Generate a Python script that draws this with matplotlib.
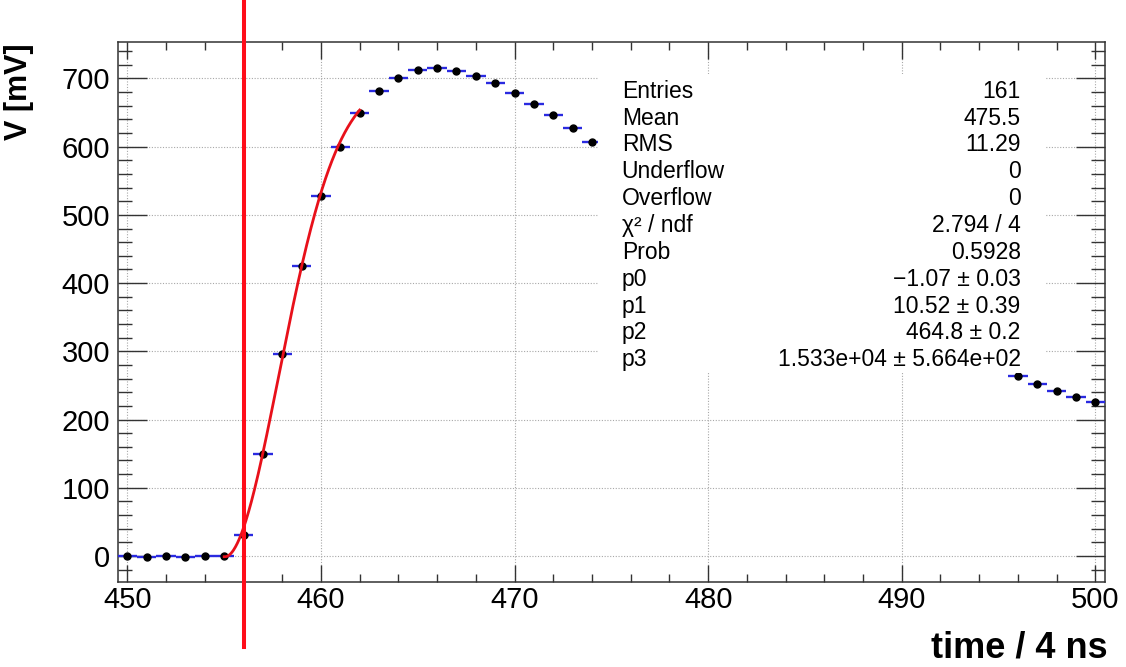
import numpy as np
import matplotlib
matplotlib.use('Agg')
import matplotlib.pyplot as plt
from matplotlib.patches import Rectangle
from matplotlib.ticker import MultipleLocator

plt.rcParams['font.family'] = ['Liberation Sans', 'DejaVu Sans']

# samples (bin centres, time / 4 ns) and measured voltage in mV
time_bins = np.arange(450, 501)
voltage = [0, -1, 0, -1.5, 0, 0, 31, 150, 296, 425,
           528, 600, 650, 682, 701, 712, 715, 711, 704, 693,
           678, 663, 646, 627, 607, 587, 567, 548, 529, 510,
           492, 475, 458, 441, 425, 410, 395, 380, 366, 352,
           339, 326, 313, 301, 289, 277, 263.5, 252, 242, 233,
           225]

# rising-edge fit: baseline + amplitude * (1 - exp(-((t - t0)/tau)^k))
fit_range = (455, 462)
fit_baseline, fit_amp, fit_t0, fit_tau, fit_k = -1.07, 700.0, 455.05, 4.09, 1.9

# threshold marker
t_cross = 456

stat_names = ['Entries', 'Mean', 'RMS', 'Underflow', 'Overflow', 'χ² / ndf',
              'Prob', 'p0', 'p1', 'p2', 'p3']
stat_values = ['161', '475.5', '11.29', '0', '0', '2.794 / 4', '0.5928',
               '\u22121.07 ± 0.03', '10.52 ± 0.39', '464.8 ± 0.2',
               '1.533e+04 ± 5.664e+02']

W, H = 1126, 667
fig = plt.figure(figsize=(W / 100, H / 100), dpi=100)
ax_l, ax_r, ax_t, ax_b = 117.7, 1105.0, 42.3, 581.7
ax = fig.add_axes([ax_l / W, 1 - ax_b / H, (ax_r - ax_l) / W, (ax_b - ax_t) / H])


def ax_y(py):
    return (ax_b - py) / (ax_b - ax_t)


def ax_x(px):
    return (px - ax_l) / (ax_r - ax_l)


ax.set_xlim(449.5, 500.5)
ax.set_ylim(-37.7, 753)
ax.set_axisbelow(True)
ax.grid(which='major', linestyle=(0, (1, 1.5)), color='#a8a8a8', linewidth=0.8)

ax.errorbar(time_bins, voltage, xerr=0.5, fmt='o', color='black', markersize=5,
            ecolor='#2a2ae0', elinewidth=1.7, capsize=0, zorder=3)

tt = np.linspace(fit_range[0], fit_range[1], 300)
rise = np.clip(tt - fit_t0, 0, None)
ff = fit_baseline + fit_amp * (1 - np.exp(-(rise / fit_tau) ** fit_k))
ax.plot(tt, ff, color='#e8101a', linewidth=2.0, zorder=4)

ax.axvline(t_cross, ymin=ax_y(647), ymax=ax_y(0), color='#ff0d1a', linewidth=2.9,
           clip_on=False, zorder=10)

# stats box
ax.add_patch(Rectangle((ax_x(598), ax_y(373)), ax_x(1045) - ax_x(598),
                       ax_y(74) - ax_y(373), transform=ax.transAxes,
                       facecolor='white', edgecolor='none', zorder=5))
for i, (name, val) in enumerate(zip(stat_names, stat_values)):
    yb = ax_y(97.8 + i * 26.85)
    ax.text(ax_x(621.7), yb, name, transform=ax.transAxes, fontsize=16.5,
            ha='left', va='baseline', zorder=6)
    ax.text(ax_x(1020.7), yb, val, transform=ax.transAxes, fontsize=16.5,
            ha='right', va='baseline', zorder=6)

ax.xaxis.set_major_locator(MultipleLocator(10))
ax.xaxis.set_minor_locator(MultipleLocator(2))
ax.yaxis.set_major_locator(MultipleLocator(100))
ax.yaxis.set_minor_locator(MultipleLocator(20))

ax.tick_params(axis='both', which='both', direction='in', top=True, right=True,
               color='#333333', width=1.0, labelsize=21)
ax.tick_params(axis='x', which='major', length=12.2, pad=3)
ax.tick_params(axis='x', which='minor', length=6)
ax.tick_params(axis='y', which='major', length=21, pad=5.5)
ax.tick_params(axis='y', which='minor', length=10)
for sp in ax.spines.values():
    sp.set_linewidth(1.1)
    sp.set_color('#333333')

fig.text(1108 / W, 1 - 657 / H, 'time / 4 ns', fontsize=26, fontweight='bold',
         ha='right', va='baseline')
fig.text(4 / W, 1 - 43 / H, 'V [mV]', fontsize=22, fontweight='bold',
         rotation=90, ha='left', va='top')

fig.savefig('out.png', dpi=100)
